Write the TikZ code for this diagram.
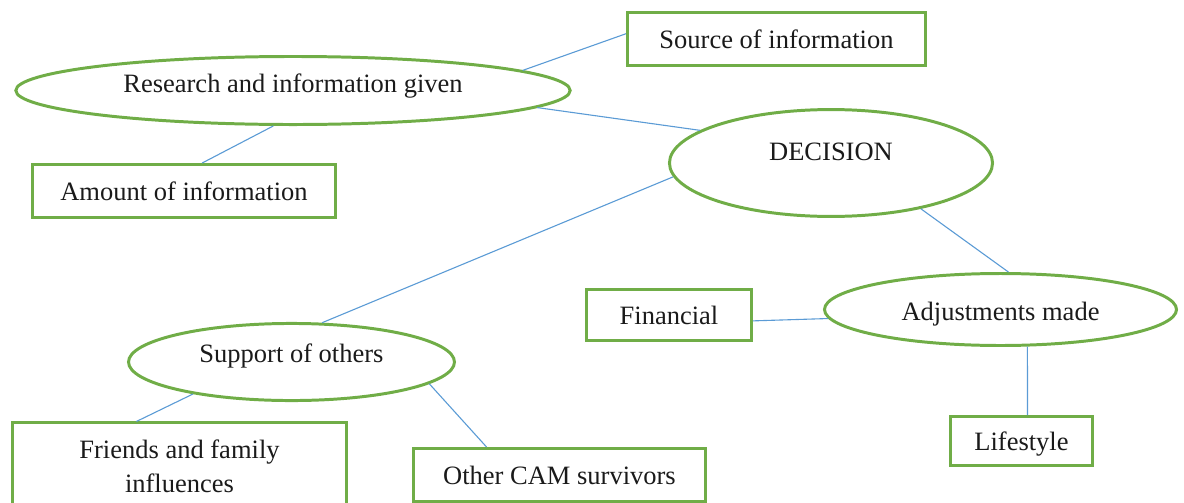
\documentclass[tikz,border=0pt]{standalone}
\usepackage{fontspec}
\setmainfont{Liberation Serif}
\usetikzlibrary{shapes.geometric}
\definecolor{camGreen}{HTML}{70AD47}
\definecolor{camBlue}{HTML}{5B9BD5}
\definecolor{camInk}{HTML}{1A1A1A}
\tikzset{
  cam shape/.style={draw=camGreen, line width=1.35pt, inner sep=0pt, text=camInk,
    font=\fontsize{12}{15.4}\selectfont, align=center},
  cam box/.style={cam shape, rectangle},
  cam oval/.style={cam shape, ellipse},
  cam link/.style={draw=camBlue, line width=0.5pt},
}

\begin{document}
\begin{tikzpicture}[x=0.4528pt,y=-0.4528pt]
  \useasboundingbox (0,0) rectangle (1184,502);
  \clip (0,0) rectangle (1184,502);
  % Ovals (text depth/height move the label off the middle)
  \node[cam oval, minimum width=251pt, minimum height=30.8pt, text depth=6.5pt] (research) at (293,90.5) {Research and information given};
  \node[cam oval, minimum width=146.3pt, minimum height=48.4pt, text depth=10.5pt] (decision) at (831,163) {DECISION};
  \node[cam oval, minimum width=159.4pt, minimum height=32.6pt, text depth=0pt, text height=10.2pt] (adjust) at (1000.5,309.5) {Adjustments made};
  \node[cam oval, minimum width=147.6pt, minimum height=34.9pt, text depth=8pt] (support) at (291.5,362) {Support of others};
  % Boxes
  \node[cam box, minimum width=135pt, minimum height=24pt] (source) at (776.5,39) {Source of information};
  \node[cam box, minimum width=137.2pt, minimum height=24pt] (amount) at (184,191) {Amount of information};
  \node[cam box, minimum width=74.7pt, minimum height=23.1pt] (financial) at (669,315) {Financial};
  \node[cam box, minimum width=64.3pt, minimum height=22.2pt, text depth=0pt, text height=8.4pt] (lifestyle) at (1021.5,441) {Lifestyle};
  \node[cam box, minimum width=151.2pt, minimum height=39pt] (friends) at (179.5,466) {Friends and family\\influences};
  \node[cam box, minimum width=132.2pt, minimum height=24pt] (other) at (559.5,475) {Other CAM survivors};
  % Links
  \draw[cam link] (research.5) -- (source.178);
  \draw[cam link] (research.-4) -- (decision.166);
  \draw[cam link] (research.241) -- (amount.57);
  \draw[cam link] (decision.185) -- (support.52);
  \draw[cam link] (decision.-27) -- (adjust.78);
  \draw[cam link] (adjust.183) -- (financial.-4);
  \draw[cam link] (adjust.-54) -- (lifestyle.77);
  \draw[cam link] (support.198) -- (friends.134);
  \draw[cam link] (support.-9.5) -- (other.159);
\end{tikzpicture}
\end{document}
